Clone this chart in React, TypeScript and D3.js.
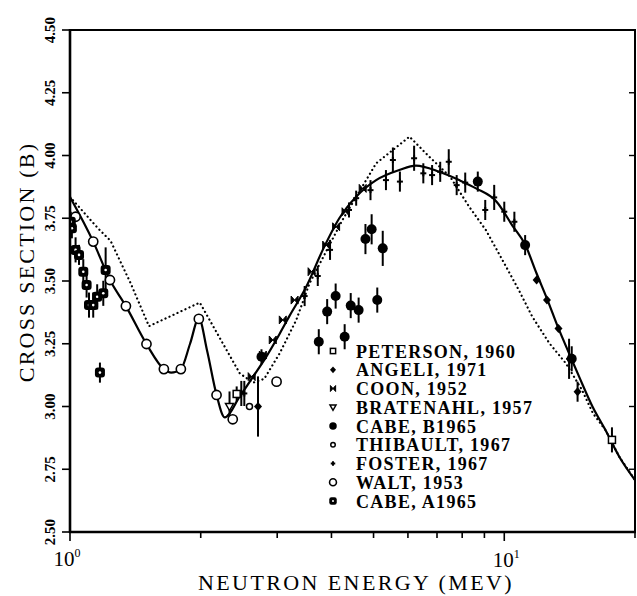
import React from 'react';
import * as d3 from 'd3';

// ---- data (energy MeV, cross section b) ----
const fitE = [1.0, 1.131, 1.236, 1.345, 1.5, 1.645, 1.71, 1.8, 1.89, 1.98, 2.07, 2.175, 2.27, 2.46, 2.64, 2.83, 3.04, 3.2, 3.5, 3.82, 4.17, 4.56, 5.07, 5.73, 6.26, 7.09, 7.87, 8.61, 9.6, 10.45, 11.17, 11.87, 12.54, 13.33, 14.1, 14.87, 15.96, 17.1, 18.4, 20];
const fitV = [3.835, 3.657, 3.504, 3.4, 3.249, 3.149, 3.135, 3.149, 3.25, 3.352, 3.22, 3.046, 2.957, 3.04, 3.119, 3.198, 3.29, 3.36, 3.477, 3.624, 3.75, 3.836, 3.902, 3.942, 3.96, 3.935, 3.902, 3.869, 3.816, 3.72, 3.645, 3.53, 3.43, 3.311, 3.212, 3.119, 3.0, 2.906, 2.8, 2.707];

const evalE = [1.0, 1.16, 1.24, 1.38, 1.52, 1.99, 2.46, 2.64, 2.8, 3.04, 3.32, 3.56, 4.24, 5.07, 6.05, 6.72, 7.5, 8.3, 9.07, 9.9, 10.8, 11.6, 12.7, 13.86, 15.1, 16.0, 17.1, 18.4, 20];
const evalV = [3.835, 3.71, 3.66, 3.49, 3.32, 3.414, 3.132, 3.095, 3.11, 3.212, 3.345, 3.49, 3.743, 3.969, 4.075, 3.995, 3.916, 3.796, 3.703, 3.584, 3.464, 3.358, 3.252, 3.172, 3.066, 2.973, 2.906, 2.8, 2.707];

const petersonE = [2.42, 17.7];
const petersonV = [3.05, 2.867];
const petersonErr = [0.03, 0.05];

const angeliE = [2.71, 11.87, 12.54, 13.33, 14.75];
const angeliV = [3.0, 3.504, 3.424, 3.311, 3.059];
const angeliErr = [0.12, 0.0, 0.0, 0.0, 0.04];

const coonE = [2.62, 2.78, 2.93, 3.09, 3.29, 3.6, 3.89, 4.1, 4.31, 4.72];
const coonV = [3.119, 3.205, 3.265, 3.345, 3.424, 3.537, 3.643, 3.716, 3.776, 3.869];

const bratenahlE = [2.33];
const bratenahlV = [3.0];
const bratenahlErr = [0.06];

const cabeBE = [2.76, 3.74, 3.91, 4.09, 4.29, 4.43, 4.62, 5.1, 4.79, 4.95, 5.25, 8.69, 11.17, 14.3];
const cabeBV = [3.198, 3.258, 3.378, 3.44, 3.278, 3.402, 3.384, 3.424, 3.667, 3.706, 3.63, 3.896, 3.643, 3.19];
const cabeBErr = [0.03, 0.05, 0.05, 0.05, 0.05, 0.05, 0.05, 0.05, 0.06, 0.06, 0.07, 0.04, 0.04, 0.05];

const thibaultE = [2.59];
const thibaultV = [3.0];

const fosterE = [2.48, 2.52, 3.47, 3.72, 3.97, 4.39, 4.56, 4.92, 5.34, 5.54, 5.75, 6.2, 6.51, 6.82, 7.12, 7.45, 7.77, 8.13, 9.04, 9.48, 10.0, 10.55, 14.1];
const fosterV = [3.052, 3.052, 3.44, 3.52, 3.624, 3.783, 3.83, 3.862, 3.902, 3.982, 3.896, 3.989, 3.929, 3.922, 3.935, 3.975, 3.882, 3.892, 3.783, 3.833, 3.776, 3.736, 3.19];
const fosterErr = [0.05, 0.05, 0.04, 0.04, 0.04, 0.03, 0.03, 0.04, 0.04, 0.05, 0.04, 0.05, 0.04, 0.04, 0.04, 0.05, 0.04, 0.04, 0.04, 0.05, 0.04, 0.04, 0.08];

const waltE = [1.03, 1.131, 1.236, 1.345, 1.5, 1.645, 1.8, 1.98, 2.175, 2.37, 2.99];
const waltV = [3.756, 3.657, 3.504, 3.4, 3.249, 3.149, 3.149, 3.349, 3.046, 2.949, 3.099];

const cabeAE = [1.004, 1.01, 1.03, 1.049, 1.073, 1.092, 1.106, 1.131, 1.155, 1.193, 1.208, 1.172];
const cabeAV = [3.736, 3.71, 3.624, 3.604, 3.537, 3.484, 3.404, 3.404, 3.437, 3.451, 3.544, 3.135];
const cabeAErr = [0.04, 0.04, 0.05, 0.04, 0.05, 0.05, 0.05, 0.05, 0.05, 0.05, 0.09, 0.04];

const yTicks = [2.5, 2.75, 3.0, 3.25, 3.5, 3.75, 4.0, 4.25, 4.5];
const xMinorTicks = [1, 2, 3, 4, 5, 6, 7, 8, 9, 10, 20];
const legendLabels = ['PETERSON, 1960', 'ANGELI, 1971', 'COON, 1952', 'BRATENAHL, 1957', 'CABE, B1965', 'THIBAULT, 1967', 'FOSTER, 1967', 'WALT, 1953', 'CABE, A1965'];
const legendKinds = ['square', 'diamond', 'bowtie', 'triangle', 'dot', 'smallcircle', 'plus', 'circle', 'cabeA'];

const FONT = '"Liberation Serif", "DejaVu Serif", serif';

function Marker({ kind, cx, cy, s = 1 }: { kind: string; cx: number; cy: number; s?: number }) {
  switch (kind) {
    case 'square':
      return <rect x={cx - 3.5 * s} y={cy - 3.5 * s} width={7 * s} height={7 * s} fill="white" stroke="black" strokeWidth={1.5} />;
    case 'diamond':
      return <path d={`M${cx},${cy - 4.5 * s}L${cx + 4 * s},${cy}L${cx},${cy + 4.5 * s}L${cx - 4 * s},${cy}Z`} fill="black" />;
    case 'bowtie':
      return <path d={`M${cx - 3.5 * s},${cy - 4 * s}L${cx + 3.5 * s},${cy + 4 * s}L${cx + 3.5 * s},${cy - 4 * s}L${cx - 3.5 * s},${cy + 4 * s}Z`} fill="black" stroke="black" strokeWidth={1} />;
    case 'triangle':
      return <path d={`M${cx - 4 * s},${cy - 3 * s}L${cx + 4 * s},${cy - 3 * s}L${cx},${cy + 4 * s}Z`} fill="white" stroke="black" strokeWidth={1.5} />;
    case 'dot':
      return <circle cx={cx} cy={cy} r={5 * s} fill="black" />;
    case 'smallcircle':
      return <circle cx={cx} cy={cy} r={3 * s} fill="white" stroke="black" strokeWidth={1.5} />;
    case 'plus':
      return (
        <g stroke="black" strokeWidth={2}>
          <line x1={cx - 3 * s} x2={cx + 3 * s} y1={cy} y2={cy} />
          <line x1={cx} x2={cx} y1={cy - 3 * s} y2={cy + 3 * s} />
        </g>
      );
    case 'circle':
      return <circle cx={cx} cy={cy} r={4.6 * s} fill="white" stroke="black" strokeWidth={1.6} />;
    case 'cabeA':
      return (
        <g>
          <rect x={cx - 5 * s} y={cy - 5 * s} width={10 * s} height={10 * s} rx={3 * s} fill="black" />
          <circle cx={cx} cy={cy} r={1.3 * s} fill="white" />
        </g>
      );
    default:
      return null;
  }
}

export default function App() {
  const W = 637;
  const H = 596;
  const x = d3.scaleLog().domain([1, 20]).range([70, 635]);
  const y = d3.scaleLinear().domain([2.5, 4.5]).range([532, 30]);

  const fitPts: [number, number][] = fitE.map((e, i) => [e, fitV[i]]);
  const evalPts: [number, number][] = evalE.map((e, i) => [e, evalV[i]]);
  const solid = d3.line<[number, number]>().x(d => x(d[0])).y(d => y(d[1])).curve(d3.curveMonotoneX)(fitPts) || '';
  const dotted = d3.line<[number, number]>().x(d => x(d[0])).y(d => y(d[1])).curve(d3.curveLinear)(evalPts) || '';

  const errBars = (E: number[], V: number[], Err: number[], key: string) =>
    E.map((e, i) =>
      Err[i] > 0 ? (
        <line key={key + i} x1={x(e)} x2={x(e)} y1={y(V[i] - Err[i])} y2={y(V[i] + Err[i])} stroke="black" strokeWidth={2} />
      ) : null
    );
  const marks = (E: number[], V: number[], kind: string, key: string) =>
    E.map((e, i) => <Marker key={key + i} kind={kind} cx={x(e)} cy={y(V[i])} />);

  const legendX = 333;
  const legendY0 = 351;
  const legendDy = 18.75;

  return (
    <svg width={W} height={H} style={{ position: 'absolute', left: 0, top: 0, background: 'white' }} fontFamily={FONT}>
      <rect x={0} y={0} width={W} height={H} fill="white" />
      <defs>
        <clipPath id="plotclip">
          <rect x={70} y={30} width={565} height={502} />
        </clipPath>
      </defs>

      {/* curves */}
      <g clipPath="url(#plotclip)">
        <path d={dotted} fill="none" stroke="black" strokeWidth={2.2} strokeDasharray="0.1,4.3" strokeLinecap="round" />
        <path d={solid} fill="none" stroke="black" strokeWidth={2.2} />
      </g>

      {/* data */}
      <g clipPath="url(#plotclip)">
        {errBars(cabeAE, cabeAV, cabeAErr, 'cae')}
        {errBars(cabeBE, cabeBV, cabeBErr, 'cbe')}
        {errBars(fosterE, fosterV, fosterErr, 'fe')}
        {errBars(angeliE, angeliV, angeliErr, 'ae')}
        {errBars(bratenahlE, bratenahlV, bratenahlErr, 'be')}
        {errBars(petersonE, petersonV, petersonErr, 'pe')}
        {marks(waltE, waltV, 'circle', 'w')}
        {marks(cabeAE, cabeAV, 'cabeA', 'ca')}
        {marks(cabeBE, cabeBV, 'dot', 'cb')}
        {marks(coonE, coonV, 'bowtie', 'co')}
        {marks(fosterE, fosterV, 'plus', 'fo')}
        {marks(angeliE, angeliV, 'diamond', 'an')}
        {marks(bratenahlE, bratenahlV, 'triangle', 'br')}
        {marks(thibaultE, thibaultV, 'smallcircle', 'th')}
        {marks(petersonE, petersonV, 'square', 'pt')}
      </g>

      {/* frame */}
      <line x1={70} x2={70} y1={29} y2={533} stroke="black" strokeWidth={2.6} />
      <line x1={69} x2={636} y1={532} y2={532} stroke="black" strokeWidth={2.6} />
      <line x1={69} x2={636} y1={30} y2={30} stroke="black" strokeWidth={2.2} />
      <line x1={635} x2={635} y1={29} y2={533} stroke="black" strokeWidth={2} />

      {/* y ticks */}
      {yTicks.map(t => (
        <g key={'yt' + t}>
          <line x1={62} x2={70} y1={y(t)} y2={y(t)} stroke="black" strokeWidth={1.6} />
          <line x1={629} x2={635} y1={y(t)} y2={y(t)} stroke="black" strokeWidth={1.4} />
          <text
            transform={`translate(${55},${Math.max(y(t), 21)}) rotate(-90)`}
            textAnchor="middle"
            fontSize={15}
            fontWeight="bold"
          >
            {t.toFixed(2)}
          </text>
        </g>
      ))}

      {/* x ticks */}
      {xMinorTicks.map(t => (
        <line key={'xt' + t} x1={x(t)} x2={x(t)} y1={532} y2={t === 10 || t === 1 ? 541 : 538} stroke="black" strokeWidth={1.6} />
      ))}
      <text x={x(1) - 3} y={566} textAnchor="middle" fontSize={21}>
        10<tspan dy={-9} fontSize={12}>0</tspan>
      </text>
      <text x={x(10) + 2} y={567} textAnchor="middle" fontSize={21}>
        10<tspan dy={-9} fontSize={12}>1</tspan>
      </text>

      {/* axis titles */}
      <text x={356} y={590} textAnchor="middle" fontSize={22} letterSpacing={2.4}>
        NEUTRON ENERGY (MEV)
      </text>
      <text transform="translate(34,262) rotate(-90)" textAnchor="middle" fontSize={22} letterSpacing={2.2}>
        CROSS SECTION  (B)
      </text>

      {/* legend */}
      {legendLabels.map((lab, i) => (
        <g key={'lg' + i}>
          <Marker kind={legendKinds[i]} cx={legendX} cy={legendY0 + i * legendDy} s={0.75} />
          <text x={356} y={legendY0 + i * legendDy + 6.5} fontSize={18} fontWeight="bold" letterSpacing={1.3}>
            {lab}
          </text>
        </g>
      ))}
    </svg>
  );
}
